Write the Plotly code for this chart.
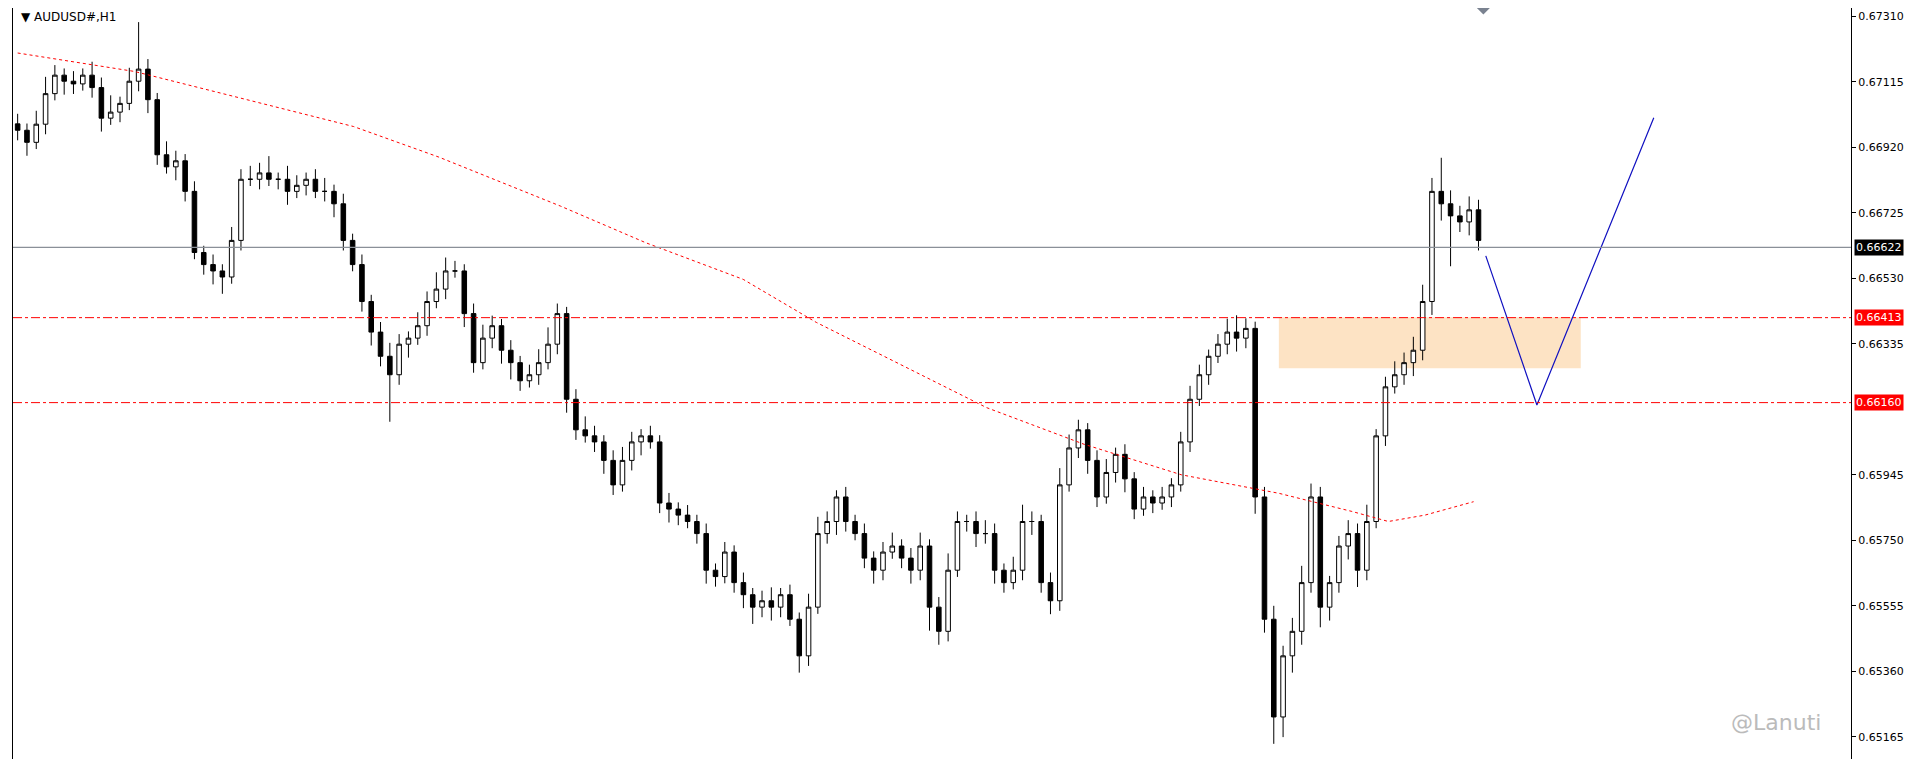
import plotly.graph_objects as go

# closes of AUDUSD# H1
closes = [0.66971, 0.66935, 0.66989, 0.67080, 0.67135, 0.67117, 0.67109, 0.67135, 0.67098, 0.67007,
          0.67025, 0.67051, 0.67117, 0.67153, 0.67062, 0.66898, 0.66862, 0.66880, 0.66789, 0.66607,
          0.66571, 0.66552, 0.66534, 0.66643, 0.66825, 0.66825, 0.66844, 0.66825, 0.66825, 0.66789,
          0.66807, 0.66825, 0.66789, 0.66789, 0.66752, 0.66643, 0.66571, 0.66461, 0.66370, 0.66298,
          0.66243, 0.66334, 0.66352, 0.66389, 0.66461, 0.66498, 0.66552, 0.66552, 0.66425, 0.66279,
          0.66352, 0.66389, 0.66316, 0.66279, 0.66225, 0.66243, 0.66279, 0.66334, 0.66425, 0.66170,
          0.66079, 0.66061, 0.66043, 0.65988, 0.65915, 0.65988, 0.66043, 0.66061, 0.66043, 0.65861,
          0.65843, 0.65825, 0.65806, 0.65770, 0.65661, 0.65642, 0.65715, 0.65624, 0.65588, 0.65551,
          0.65570, 0.65551, 0.65588, 0.65515, 0.65406, 0.65551, 0.65770, 0.65806, 0.65879, 0.65806,
          0.65770, 0.65697, 0.65661, 0.65715, 0.65733, 0.65697, 0.65661, 0.65733, 0.65551, 0.65479,
          0.65661, 0.65806, 0.65806, 0.65770, 0.65770, 0.65661, 0.65624, 0.65661, 0.65806, 0.65806,
          0.65624, 0.65570, 0.65915, 0.66025, 0.66079, 0.65988, 0.65879, 0.65952, 0.66006, 0.65933,
          0.65843, 0.65879, 0.65861, 0.65879, 0.65915, 0.66043, 0.66170, 0.66243, 0.66298, 0.66334,
          0.66370, 0.66352, 0.66381, 0.65879, 0.65515, 0.65224, 0.65406, 0.65479, 0.65624, 0.65879,
          0.65551, 0.65624, 0.65733, 0.65770, 0.65661, 0.65806, 0.66061, 0.66207, 0.66243, 0.66279,
          0.66316, 0.66461, 0.66789, 0.66752, 0.66716, 0.66698, 0.66734, 0.66643]
opens = [0.66990] + closes[:-1]
# wick lengths in pips, read by eye
up_wick = [3, 2, 4, 5, 3, 2, 3, 2, 4, 3, 5, 2, 4, 14, 3, 2, 4, 3, 2, 3,
           2, 3, 2, 4, 3, 4, 3, 5, 2, 4, 3, 2, 3, 4, 2, 3, 2, 3, 2, 3,
           4, 3, 2, 4, 3, 5, 4, 3, 2, 3, 4, 3, 2, 3, 2, 3, 4, 5, 3, 2,
           3, 4, 3, 2, 3, 4, 3, 2, 3, 2, 3, 2, 3, 2, 3, 2, 3, 2, 3, 2,
           3, 4, 2, 3, 2, 4, 5, 3, 2, 3, 2, 3, 2, 3, 4, 2, 3, 4, 2, 3,
           5, 3, 2, 3, 4, 3, 2, 4, 5, 3, 2, 3, 5, 4, 3, 2, 3, 4, 2, 3,
           2, 3, 2, 3, 2, 3, 4, 3, 2, 3, 4, 5, 3, 2, 3, 4, 3, 4, 5, 4,
           3, 2, 3, 4, 3, 5, 2, 3, 4, 3, 4, 5, 4, 10, 4, 3, 4, 3]
dn_wick = [3, 4, 2, 3, 2, 4, 3, 2, 3, 4, 2, 3, 2, 3, 4, 3, 2, 4, 3, 2,
           3, 4, 5, 2, 3, 2, 3, 2, 3, 4, 2, 3, 2, 3, 4, 3, 2, 3, 4, 3,
           14, 3, 4, 2, 3, 2, 3, 2, 4, 3, 2, 3, 4, 5, 3, 2, 3, 2, 3, 4,
           3, 2, 3, 4, 3, 2, 3, 4, 2, 3, 4, 3, 2, 3, 4, 3, 2, 3, 4, 5,
           3, 4, 3, 2, 5, 3, 2, 3, 4, 3, 2, 3, 4, 3, 2, 3, 4, 3, 7, 4,
           3, 2, 3, 4, 3, 4, 3, 2, 3, 4, 3, 4, 3, 2, 3, 4, 3, 2, 3, 4,
           3, 2, 3, 2, 3, 2, 3, 2, 3, 2, 3, 4, 3, 5, 4, 8, 6, 5, 4, 3,
           6, 4, 3, 4, 5, 3, 2, 3, 2, 3, 4, 3, 4, 5, 15, 3, 4, 3]

ma_x = [4, 100, 200, 280, 350, 450, 520, 600, 660, 720, 800, 880, 960, 1040, 1100, 1130, 1160, 1200]
ma_y = [0.67201, 0.67146, 0.67055, 0.66982, 0.66891, 0.66745, 0.66636, 0.66527, 0.66399, 0.66290,
        0.66145, 0.66036, 0.65945, 0.65890, 0.65836, 0.65806, 0.65825, 0.65865]

zone_x = [1040, 1288]
zone_y = [0.66262, 0.66414]
path_x = [1210, 1252, 1348]
path_y = [0.66597, 0.66153, 0.67008]

last_price = 0.66622
levels = [0.66413, 0.66160]
tick_vals = [0.67310, 0.67115, 0.66920, 0.66725, 0.66530, 0.66335, 0.65945, 0.65750, 0.65555, 0.65360, 0.65165]

n = len(closes)
step = 1200 / (n - 1)


def px(x):
    # chart pixel column -> bar index
    return (x - 4) / step


idx = list(range(n))
highs = [max(o, c) + w * 0.0001 for o, c, w in zip(opens, closes, up_wick)]
lows = [min(o, c) - w * 0.0001 for o, c, w in zip(opens, closes, dn_wick)]

fig = go.Figure()
fig.add_trace(go.Candlestick(
    x=idx, open=opens, high=highs, low=lows, close=closes,
    increasing=dict(line=dict(color="black", width=1), fillcolor="white"),
    decreasing=dict(line=dict(color="black", width=1), fillcolor="black"),
    whiskerwidth=0, hoverinfo="skip"))
fig.add_trace(go.Scatter(x=[px(v) for v in ma_x], y=ma_y, mode="lines",
                         line=dict(color="red", width=1, dash="dot"), hoverinfo="skip"))
fig.add_trace(go.Scatter(x=[px(v) for v in path_x], y=path_y, mode="lines",
                         line=dict(color="#1010c0", width=1.2), hoverinfo="skip"))
# small grey marker at the top edge
fig.add_trace(go.Scatter(x=[px(1208)], y=[0.67335], mode="markers", cliponaxis=False,
                         marker=dict(symbol="diamond", size=10, color="#7a8290"), hoverinfo="skip"))

fig.add_shape(type="rect", x0=px(zone_x[0]), x1=px(zone_x[1]), y0=zone_y[0], y1=zone_y[1],
              fillcolor="#fde3c4", line_width=0, layer="below")
fig.add_hline(y=last_price, line=dict(color="#8a9098", width=1.2))
for lv in levels:
    fig.add_hline(y=lv, line=dict(color="red", width=1, dash="dashdot"))

for val, bg, fg in [(last_price, "black", "white"), (levels[0], "red", "white"), (levels[1], "red", "white")]:
    fig.add_annotation(x=1, xref="paper", y=val, text=f"{val:.5f}", showarrow=False,
                       xanchor="left", xshift=3, bgcolor=bg, font=dict(color=fg, size=11, family="DejaVu Sans"),
                       borderpad=1)

fig.add_annotation(x=0.003, xref="paper", y=1, yref="paper", text="▼ AUDUSD#,H1", showarrow=False,
                   xanchor="left", yanchor="top", font=dict(size=12, family="DejaVu Sans", color="black"))
fig.add_annotation(x=0.985, xref="paper", y=0.04, yref="paper", text="@Lanuti", showarrow=False,
                   xanchor="right", yanchor="bottom", font=dict(size=22, family="DejaVu Sans", color="#bbbbbb"))

fig.update_layout(
    width=1915, height=759, showlegend=False, plot_bgcolor="white", paper_bgcolor="white",
    margin=dict(l=5, r=72, t=0, b=0),
    xaxis=dict(range=[-0.5, px(1510)], showgrid=False, showticklabels=False, zeroline=False,
               rangeslider=dict(visible=False), showline=False),
    yaxis=dict(range=[0.65075, 0.67335], side="right", showgrid=False, zeroline=False,
               tickvals=tick_vals, ticktext=[f"{v:.5f}" for v in tick_vals], ticks="outside",
               ticklen=4, tickcolor="black", showline=True, linecolor="black", mirror=True,
               tickfont=dict(size=11, family="DejaVu Sans", color="black")),
)
fig.write_html("out.html")
